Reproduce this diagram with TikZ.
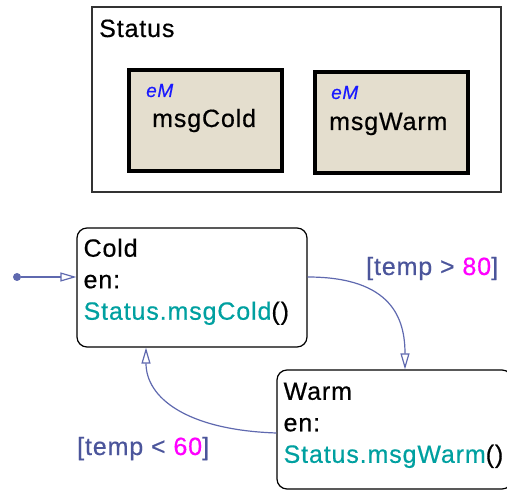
\documentclass[tikz,border=0pt]{standalone}
\usepackage{fontspec}
\setmainfont{Liberation Sans}[LetterSpace=3.5, FakeBold=0.5]
\usetikzlibrary{arrows.meta}
\usetikzlibrary{positioning}
\usetikzlibrary{calc}

\definecolor{transcol}{RGB}{95,105,175}
\definecolor{guardcol}{RGB}{75,85,155}
\definecolor{callcol}{RGB}{0,160,160}
\definecolor{numcol}{RGB}{255,0,255}
\definecolor{emcol}{RGB}{25,25,255}
\definecolor{msgfill}{RGB}{228,222,206}

\begin{document}
\begin{tikzpicture}
    [x=1pt,y=-1pt,
statebox/.style={draw=black, line width=1.2pt, rounded corners=10pt, inner sep=0pt},
groupbox/.style={draw=black!80, line width=1.5pt, inner sep=0pt},
msgbox/.style={draw=black, fill=msgfill, line width=4pt, inner sep=0pt, minimum width=153pt, minimum height=101pt},
statetext/.style={anchor=north west, inner sep=0pt, align=left, font=\fontsize{25}{31.5}\selectfont},
plaintext/.style={anchor=base west, inner sep=0pt, font=\fontsize{25}{30}\selectfont},
emtext/.style={anchor=base west, inner sep=0pt, text=emcol, font=\fontsize{19}{22}\selectfont\itshape},
guard/.style={anchor=base west, inner sep=0pt, text=guardcol, font=\fontsize{25}{30}\selectfont},
trans/.style={draw=transcol, line width=1.2pt, -{Triangle[open, length=16pt, width=9pt]}}
]

\useasboundingbox (0,0) rectangle (507,492);

% the Status group with its two messages
\node[groupbox, minimum width=409pt, minimum height=185pt](status) at (296.5,99.5){};
\node[plaintext](statustitle) at (99,37){Status};

\node[msgbox](msgcold) at (205.5,120.5){};
\node[msgbox](msgwarm) at (391.5,122.5){};
\node[emtext](emcold) at (146,97){eM};
\node[plaintext](msgcoldtxt) at (152,127){msgCold};
\node[emtext](emwarm) at (331,99){eM};
\node[plaintext](msgwarmtxt) at (329,130){msgWarm};

% the two states
\node[statebox, minimum width=230pt, minimum height=119pt](cold) at (192,287.5){};
\node[statebox, minimum width=235pt, minimum height=119pt](warm) at (394.5,429.5){};

\node[statetext](coldtxt) at ($(cold.north west)+(7,11)$){Cold\\en:\\\textcolor{callcol}{Status.msgCold}()};
\node[statetext](warmtxt) at ($(warm.north west)+(7,13)$){Warm\\en:\\\textcolor{callcol}{Status.msgWarm}()};

\node[circle, fill=transcol, inner sep=0pt, minimum size=8pt](init) at (17,277){};

\node[guard](guardhot) at (366,275){[temp > \textcolor{numcol}{80}]};
\node[guard](guardcold) at (77,455){[temp < \textcolor{numcol}{60}]};

\draw[trans] (init) -- (init -| cold.west);
\draw[trans] ([yshift=10.5pt]cold.east) .. controls +(85,0) and +(0,-50) .. ([xshift=10.5pt]warm.north);
\draw[trans] ([yshift=-3.5pt]warm.west) .. controls +(-90,-3) and +(0,50) .. ([xshift=-46pt]cold.south);

\end{tikzpicture}
\end{document}
